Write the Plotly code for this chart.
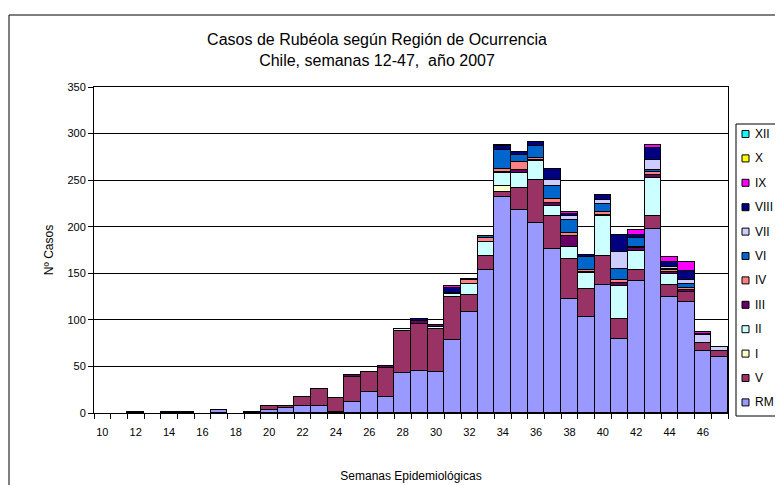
import plotly.graph_objects as go

_ = None
weeks = list(range(10, 48))
tick_weeks = list(range(10, 47, 2))

# weeks:      10-19                          20-29                              30-39                                   40-47
RM   = [_,_,1,_,1,1,_,3,_,1] + [3,5,8,7,1,12,23,17,43,45] + [44,78,108,153,232,218,204,176,122,103] + [137,79,142,198,125,119,67,60]
V    = [_]*10 + [4,2,9,19,15,27,21,31,45,51] + [46,47,19,16,5,24,46,35,43,30] + [32,22,11,14,12,11,8,7]
I_   = [_]*10 + [_]*10 + [_,_,_,_,7,_,_,_,_,_] + [_]*8
II   = [_]*10 + [_,_,_,_,_,_,_,_,2,_] + [2,3,11,15,14,16,21,11,13,17] + [42,35,21,40,12,_,_,_]
III  = [_]*10 + [_,_,_,_,_,2,_,2,_,3] + [2,1,_,_,1,3,1,3,12,1] + [2,4,3,3,2,2,_,_]
IV   = [_]*10 + [_]*10 + [_,_,5,4,3,8,2,5,3,3] + [3,3,1,4,2,2,_,_]
VI   = [_]*10 + [_]*10 + [_,_,1,2,20,8,13,14,14,14] + [8,12,10,2,2,4,_,_]
VII  = [_]*10 + [_]*10 + [_,_,_,_,_,_,_,6,4,_] + [5,18,_,11,2,5,9,4]
VIII = [_]*10 + [_,_,_,_,_,_,_,_,_,2] + [_,5,_,_,5,3,4,12,3,2] + [5,18,3,13,5,9,1,_]
IX   = [_]*10 + [_]*10 + [_,2,_,_,_,_,_,_,2,_] + [_,_,5,3,6,10,2,_]
X    = [_]*38
XII  = [_]*10 + [_]*10 + [_,_,_,_,1,_,_,_,_,_] + [_]*8

regions = ["RM", "V", "I", "II", "III", "IV", "VI", "VII", "VIII", "IX", "X", "XII"]
series = [RM, V, I_, II, III, IV, VI, VII, VIII, IX, X, XII]
colors = ["#9999FF", "#993366", "#FFFFCC", "#CCFFFF", "#660066", "#FF8080",
          "#0066CC", "#CCCCFF", "#000080", "#FF00FF", "#FFFF00", "#00FFFF"]

FONT = "Liberation Sans, Arial, sans-serif"
W, H = 783, 485
L, R, T, B = 86, 720, 79, 405
pw, ph = R - L, B - T


def px_x(p):
    return (p - L) / pw


def px_y(p):
    return (B - p) / ph


fig = go.Figure()
for name, vals, col in zip(regions, series, colors):
    fig.add_trace(go.Bar(
        x=weeks, y=vals, name=name, showlegend=False,
        marker=dict(color=col, line=dict(color="black", width=1)),
    ))

# chart-area frame and legend box
shapes = [
    dict(type="rect", xref="paper", yref="paper", layer="below",
         x0=px_x(1), x1=px_x(W + 10), y0=px_y(H + 10), y1=px_y(7),
         line=dict(color="black", width=1), fillcolor="rgba(0,0,0,0)"),
    dict(type="rect", xref="paper", yref="paper",
         x0=px_x(728), x1=px_x(W + 10), y0=px_y(408), y1=px_y(116),
         line=dict(color="black", width=1), fillcolor="white"),
]
annotations = []
legend_order = list(zip(regions, colors))[::-1]
item_top, item_step = 126, 24.4
for i, (name, col) in enumerate(legend_order):
    yc = item_top + i * item_step
    shapes.append(dict(
        type="rect", xref="paper", yref="paper",
        x0=px_x(734), x1=px_x(741), y0=px_y(yc + 3.5), y1=px_y(yc - 3.5),
        line=dict(color="black", width=1), fillcolor=col))
    annotations.append(dict(
        text=name, xref="paper", yref="paper", x=px_x(745), y=px_y(yc),
        xanchor="left", yanchor="middle", showarrow=False,
        font=dict(family=FONT, size=12, color="black")))

fig.update_layout(
    width=W, height=H,
    barmode="stack", bargap=0,
    plot_bgcolor="white", paper_bgcolor="white",
    font=dict(family=FONT, color="black", size=11),
    margin=dict(l=L, r=W - R, t=T, b=H - B, autoexpand=False),
    showlegend=False,
    title=dict(
        text="Casos de Rubéola según Región de Ocurrencia<br>Chile, semanas 12-47, \u00a0año 2007",
        x=369 / W, xanchor="center", xref="container",
        y=1 - 37 / H, yanchor="top", yref="container",
        font=dict(family=FONT, size=16, color="black"),
    ),
    xaxis=dict(
        range=[9.5, 47.5], tickmode="array", tickvals=tick_weeks,
        ticktext=[str(w) for w in tick_weeks],
        ticks="outside", ticklen=9, tickcolor="rgba(0,0,0,0)",
        showline=True, linecolor="black", linewidth=1, mirror=True,
        showgrid=False, zeroline=False,
        minor=dict(tick0=9.5, dtick=1, ticks="outside", ticklen=5,
                   tickcolor="black", showgrid=False),
        tickfont=dict(size=11),
        title=dict(text="Semanas Epidemiológicas", standoff=34,
                   font=dict(size=12)),
    ),
    yaxis=dict(
        range=[0, 350], dtick=50, ticks="outside", ticklen=5, tickcolor="black",
        showline=True, linecolor="black", linewidth=1, mirror=True,
        showgrid=True, gridcolor="black", gridwidth=1, zeroline=False,
        tickfont=dict(size=11),
        title=dict(text="Nº Casos", standoff=11, font=dict(size=12)),
    ),
    shapes=shapes,
    annotations=annotations,
)

fig.write_html("out.html")
